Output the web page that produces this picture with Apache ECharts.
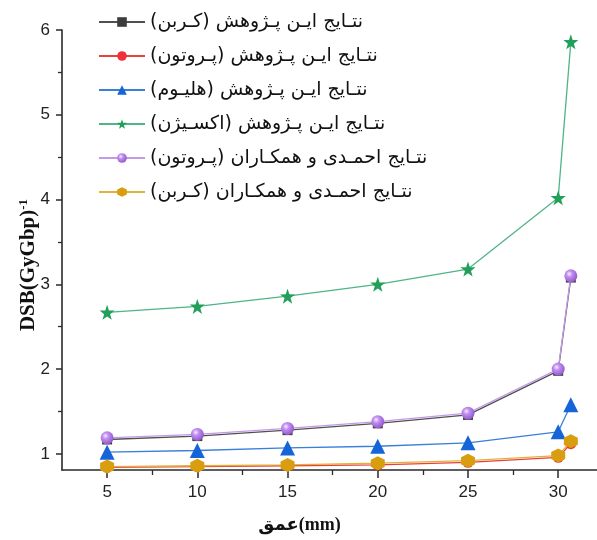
<!DOCTYPE html>
<html>
<head>
<meta charset="utf-8">
<script src="https://cdn.jsdelivr.net/npm/echarts@6/dist/echarts.min.js"></script>
<style>html,body{margin:0;padding:0;background:#fff}#c{width:597px;height:540px}</style>
</head>
<body>
<div id="c"></div>
<script>
// ---- data ----
const depth = [5, 10, 15, 20, 25, 30, 30.7];
const seriesNames = [
  'نتـایج ایـن پـژوهش (کـربن)',
  'نتـایج ایـن پـژوهش (پـروتون)',
  'نتـایج ایـن پـژوهش (هلیـوم)',
  'نتـایج ایـن پـژوهش (اکسـیژن)',
  'نتـایج احمـدی و همکـاران (پـروتون)',
  'نتـایج احمـدی و همکـاران (کـربن)'
];
const carbonThis   = [1.17, 1.21, 1.28, 1.36, 1.46, 1.98, 3.08];
const protonThis   = [0.84, 0.85, 0.86, 0.87, 0.90, 0.96, 1.12];
const heliumThis   = [1.02, 1.04, 1.07, 1.09, 1.13, 1.26, 1.58];
const oxygenThis   = [2.67, 2.74, 2.86, 3.00, 3.18, 4.02, 5.86];
const protonAhmadi = [1.19, 1.23, 1.30, 1.38, 1.48, 2.00, 3.10];
const carbonAhmadi = [0.85, 0.86, 0.87, 0.89, 0.92, 0.98, 1.15];
const xMajorTicks = [5, 10, 15, 20, 25, 30];
const xMinorTicks = [7.5, 12.5, 17.5, 22.5, 27.5];
const yMajorTicks = [1, 2, 3, 4, 5, 6];
const yMinorTicks = [1.5, 2.5, 3.5, 4.5, 5.5];
const xTitle = 'عمق(mm)';
const yTitle = 'DSB(GyGbp)';
const yTitleSup = '-1';

// ---- styles ----
const STAR = 'path://M0,-10 L2.35,-3.24 L9.51,-3.09 L3.8,1.24 L5.88,8.09 L0,4 L-5.88,8.09 L-3.8,1.24 L-9.51,-3.09 L-2.35,-3.24 Z';
const HEX = 'path://M0,-10 L8.66,-5 L8.66,5 L0,10 L-8.66,5 L-8.66,-5 Z';
const sphere = {type:'radial', x:0.38, y:0.35, r:0.7, colorStops:[
  {offset:0, color:'#f6ecff'}, {offset:0.35, color:'#c08cf0'}, {offset:1, color:'#8d55c8'}]};

function pairs(ys){ return depth.map((x,i)=>[x, ys[i]]); }

const styles = [
  {data: carbonThis,   line:'#505050', color:'#3c3c3c', symbol:'rect',     size:10},
  {data: protonThis,   line:'#e8403a', color:'#f0303a', symbol:'circle',   size:11},
  {data: heliumThis,   line:'#3a7fd8', color:'#1565d8', symbol:'triangle', size:15},
  {data: oxygenThis,   line:'#4fb487', color:'#22a05a', symbol:STAR,       size:15},
  {data: protonAhmadi, line:'#c39ae6', color:sphere,    symbol:'circle',   size:13},
  {data: carbonAhmadi, line:'#e2b13c', color:'#d89e10', symbol:HEX,        size:14}
];

const series = styles.map((s, i) => ({
  name: seriesNames[i],
  type: 'line',
  xAxisIndex: 0, yAxisIndex: 0,
  data: pairs(s.data),
  symbol: s.symbol,
  symbolSize: s.size,
  showAllSymbol: true,
  lineStyle: {color: s.line, width: 1.3},
  itemStyle: {color: s.color},
  z: 2 + i
}));

const axisLineStyle = {color:'#2a2a2a', width:1.6};
const labelFont = {fontFamily:'Liberation Sans, Arial', fontSize:17, color:'#222'};

const chart = echarts.init(document.getElementById('c'), null, {renderer:'canvas'});
chart.setOption({
  animation: false,
  backgroundColor: '#fff',
  grid: {left:62, right:0, top:30, bottom:70, containLabel:false},
  legend: {
    orient:'vertical', left:93, top:7,
    itemWidth:46, itemHeight:12, itemGap:14,
    textStyle:{fontFamily:'DejaVu Sans', fontSize:19, lineHeight:20, color:'#111'},
    data: seriesNames
  },
  xAxis: [{
    type:'value', min:2.5, max:32.15,
    name: xTitle, nameLocation:'middle', nameGap:46,
    nameTextStyle:{fontFamily:'Liberation Serif, DejaVu Sans', fontWeight:'bold', fontSize:18, color:'#111', padding:[0,60,0,0]},
    axisLine:{show:true, onZero:false, lineStyle:axisLineStyle},
    axisTick:{show:true, customValues:xMajorTicks, length:8, lineStyle:{color:'#2a2a2a', width:1.5}},
    axisLabel:{customValues:xMajorTicks, margin:14, ...labelFont},
    splitLine:{show:false}
  },{
    type:'value', min:2.5, max:32.15, position:'bottom',
    axisLine:{show:false},
    axisTick:{show:true, customValues:xMinorTicks, length:5, lineStyle:{color:'#2a2a2a', width:1.3}},
    axisLabel:{show:false},
    splitLine:{show:false}
  }],
  yAxis: [{
    type:'value', min:0.81, max:6,
    name: yTitle + '{sup|' + yTitleSup + '}', nameLocation:'middle', nameGap:22, nameRotate:90,
    nameMoveOverlap: false,
    nameTextStyle:{fontFamily:'Liberation Serif', fontWeight:'bold', fontSize:21, color:'#111', padding:[0,30,0,0],
      rich:{sup:{fontFamily:'Liberation Serif', fontWeight:'bold', fontSize:13, color:'#111', padding:[0,0,10,0]}}},
    axisLine:{show:true, onZero:false, lineStyle:axisLineStyle},
    axisTick:{show:true, customValues:yMajorTicks, length:6, lineStyle:{color:'#2a2a2a', width:1.5}},
    axisLabel:{customValues:yMajorTicks, margin:12, ...labelFont},
    splitLine:{show:false}
  },{
    type:'value', min:0.81, max:6, position:'left',
    axisLine:{show:false},
    axisTick:{show:true, customValues:yMinorTicks, length:4, lineStyle:{color:'#2a2a2a', width:1.3}},
    axisLabel:{show:false},
    splitLine:{show:false}
  }],
  series: series
});
</script>
</body>
</html>
